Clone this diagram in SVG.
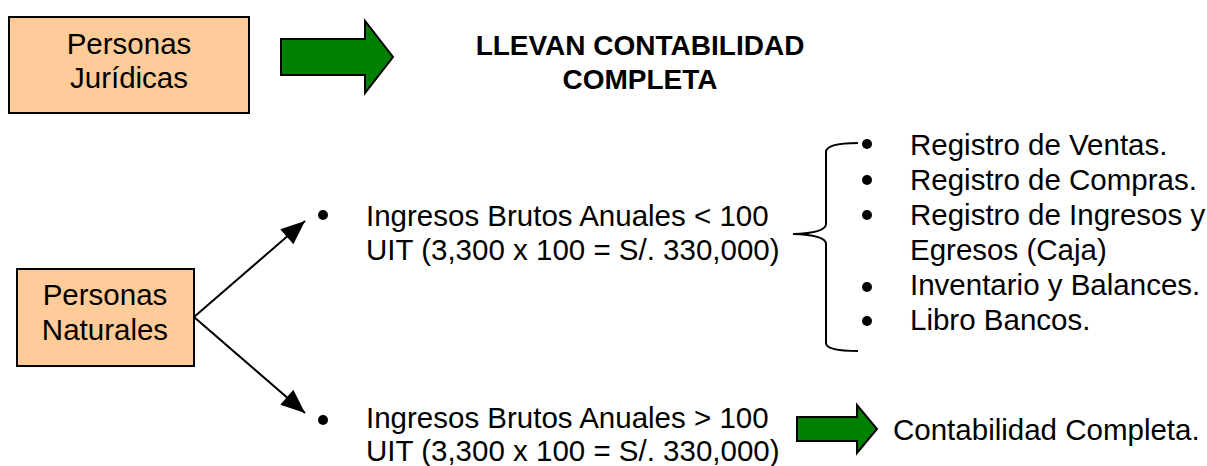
<svg xmlns="http://www.w3.org/2000/svg" width="1207" height="466" viewBox="0 0 1207 466">
<style>
.t{font-family:"Liberation Sans",Arial,sans-serif;font-size:29.5px;fill:#000}
.b{font-weight:bold;font-size:28px}
.box{fill:#FFCC99;stroke:#000;stroke-width:2}
.garrow{fill:#008000;stroke:#000;stroke-width:2;stroke-linejoin:miter}
.conn{stroke:#000;stroke-width:2;fill:none}
</style>
<defs>
<marker id="ah" viewBox="0 0 10 10" refX="10" refY="5" markerWidth="24" markerHeight="20" markerUnits="userSpaceOnUse" orient="auto" overflow="visible" preserveAspectRatio="none">
<path d="M0,0 L10,5 L0,10 z" fill="#000"/>
</marker>
</defs>
<rect width="1207" height="466" fill="#fff"/>
<g id="juridicas">
<rect class="box" x="9" y="17" width="240" height="96"/>
<text class="t" x="129" y="54" text-anchor="middle">Personas</text>
<text class="t" x="129" y="88" text-anchor="middle">Jurídicas</text>
</g>
<g id="arrow-top">
<path class="garrow" d="M281,39 H365 V21 L393,57 L365,93 V75 H281 Z"/>
</g>
<g id="title">
<text class="t b" x="640" y="55" text-anchor="middle">LLEVAN CONTABILIDAD</text>
<text class="t b" x="640" y="89" text-anchor="middle">COMPLETA</text>
</g>
<g id="naturales">
<rect class="box" x="17" y="269" width="177" height="97"/>
<text class="t" x="105" y="305" text-anchor="middle">Personas</text>
<text class="t" x="105" y="340" text-anchor="middle">Naturales</text>
</g>
<g id="connectors">
<line class="conn" x1="194" y1="317" x2="305" y2="221" marker-end="url(#ah)"/>
<line class="conn" x1="194" y1="317" x2="305" y2="413" marker-end="url(#ah)"/>
</g>
<g id="menor">
<circle cx="323" cy="215" r="5" fill="#000"/>
<text class="t" x="366" y="226">Ingresos Brutos Anuales &lt; 100</text>
<text class="t" x="366" y="260">UIT (3,300 x 100 = S/. 330,000)</text>
</g>
<g id="brace">
<path class="conn" stroke-width="3" d="M858,143 Q826,143 826,152 V224 Q826,233 793,234 Q826,235 826,244 V343 Q826,351 858,351"/>
</g>
<g id="lista">
<circle cx="867" cy="144" r="5" fill="#000"/>
<text class="t" x="910" y="155">Registro de Ventas.</text>
<circle cx="867" cy="180" r="5" fill="#000"/>
<text class="t" x="910" y="190">Registro de Compras.</text>
<circle cx="867" cy="215" r="5" fill="#000"/>
<text class="t" x="910" y="225">Registro de Ingresos y</text>
<text class="t" x="910" y="260">Egresos (Caja)</text>
<circle cx="867" cy="287" r="5" fill="#000"/>
<text class="t" x="910" y="295">Inventario y Balances.</text>
<circle cx="867" cy="321" r="5" fill="#000"/>
<text class="t" x="910" y="330">Libro Bancos.</text>
</g>
<g id="mayor">
<circle cx="323" cy="420" r="5" fill="#000"/>
<text class="t" x="366" y="428">Ingresos Brutos Anuales &gt; 100</text>
<text class="t" x="366" y="461">UIT (3,300 x 100 = S/. 330,000)</text>
</g>
<g id="arrow-bottom">
<path class="garrow" d="M797,417 H857 V405 L877,429 L857,453 V441 H797 Z"/>
</g>
<g id="completa">
<text class="t" x="893" y="440">Contabilidad Completa.</text>
</g>
</svg>
